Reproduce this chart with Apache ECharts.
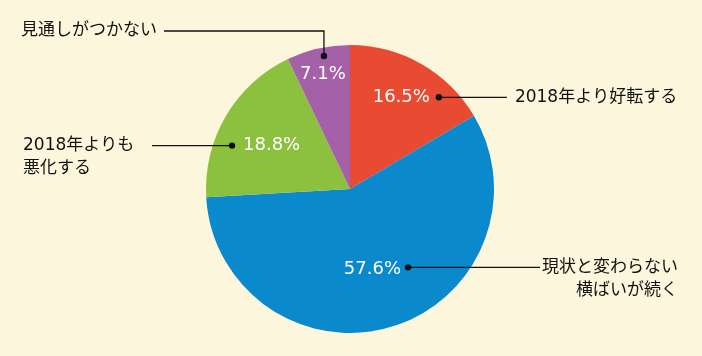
<!DOCTYPE html>
<html><head><meta charset="utf-8">
<script src="https://cdn.jsdelivr.net/npm/echarts@6/dist/echarts.min.js"></script>
<style>html,body{margin:0;padding:0;background:#fcf7dc}#c{width:702px;height:356px}</style>
</head><body><div id="c"></div>
<script>
// ---- data ----
const categories = ['2018年より好転する', '現状と変わらない\n横ばいが続く', '2018年よりも\n悪化する', '見通しがつかない'];
const values = [16.5, 57.6, 18.8, 7.1];
const colors = ['#e84a32', '#0a89cd', '#8cc13f', '#a461a7'];

// ---- layout config ----
const CX = 350, CY = 189, R = 144;
const dotAngleOffset = [14.4, -19.6, -10.4, 1.7];   // deg from slice mid angle
const dotRadiusFrac = [0.887, 0.677, 0.873, 0.941];
const pctDx = [-9, -7, 11, -1];
const pctDy = [0, 2, 0, 18];
const pctAlign = ['right', 'right', 'left', 'center'];

const total = values.reduce((a, b) => a + b, 0);
function dotPos(i) {
  let cum = 0;
  for (let k = 0; k < i; k++) cum += values[k];
  const mid = (cum + values[i] / 2) / total * 360 + dotAngleOffset[i];
  const a = mid * Math.PI / 180;
  const r = R * dotRadiusFrac[i];
  return [CX + r * Math.sin(a), CY - r * Math.cos(a)];
}

const chart = echarts.init(document.getElementById('c'));
const INK = '#111';
const JP = '"DejaVu Sans", "Noto Sans CJK JP", sans-serif';

const graphics = [];
function line(pts) {
  graphics.push({ type: 'polyline', z: 10, shape: { points: pts }, style: { stroke: INK, lineWidth: 1.3, fill: null } });
}
function dot(p) {
  graphics.push({ type: 'circle', z: 11, shape: { cx: p[0], cy: p[1], r: 3.2 }, style: { fill: INK } });
}
function label(text, x, y, align, vAlign) {
  graphics.push({ type: 'text', z: 11, x: x, y: y, style: { text: text, font: '17px ' + JP, fill: INK, align: align, verticalAlign: vAlign, lineHeight: 23 } });
}

// red
let p = dotPos(0); dot(p);
line([p, [p[0] + 68, p[1]]]);
label(categories[0], p[0] + 76, p[1], 'left', 'middle');
// blue
p = dotPos(1); dot(p);
line([p, [p[0] + 132, p[1]]]);
label(categories[1], p[0] + 270, p[1] - 11.5, 'right', 'top');
// green
p = dotPos(2); dot(p);
line([p, [p[0] - 80, p[1]]]);
label(categories[2], p[0] - 209, p[1] - 11.5, 'left', 'top');
// purple
p = dotPos(3); dot(p);
line([p, [p[0], p[1] - 25], [p[0] - 160, p[1] - 25]]);
label(categories[3], p[0] - 167, p[1] - 25, 'right', 'middle');

chart.setOption({
  backgroundColor: '#fcf7dc',
  animation: false,
  graphic: graphics,
  series: [{
    type: 'pie',
    center: [CX, CY],
    radius: R,
    startAngle: 90,
    clockwise: true,
    data: values.map((v, i) => ({ name: categories[i], value: v, itemStyle: { color: colors[i] } })),
    itemStyle: { borderWidth: 0 },
    label: {
      show: true,
      position: 'inside',
      formatter: p => p.value.toFixed(1) + '%',
      color: '#fff',
      fontSize: 18,
      fontFamily: '"DejaVu Sans", sans-serif'
    },
    labelLine: { show: false },
    labelLayout: params => {
      const i = params.dataIndex;
      const d = dotPos(i);
      return { x: d[0] + pctDx[i], y: d[1] + pctDy[i], align: pctAlign[i], verticalAlign: 'middle' };
    },
    emphasis: { disabled: true }
  }]
});
</script>
</body></html>
